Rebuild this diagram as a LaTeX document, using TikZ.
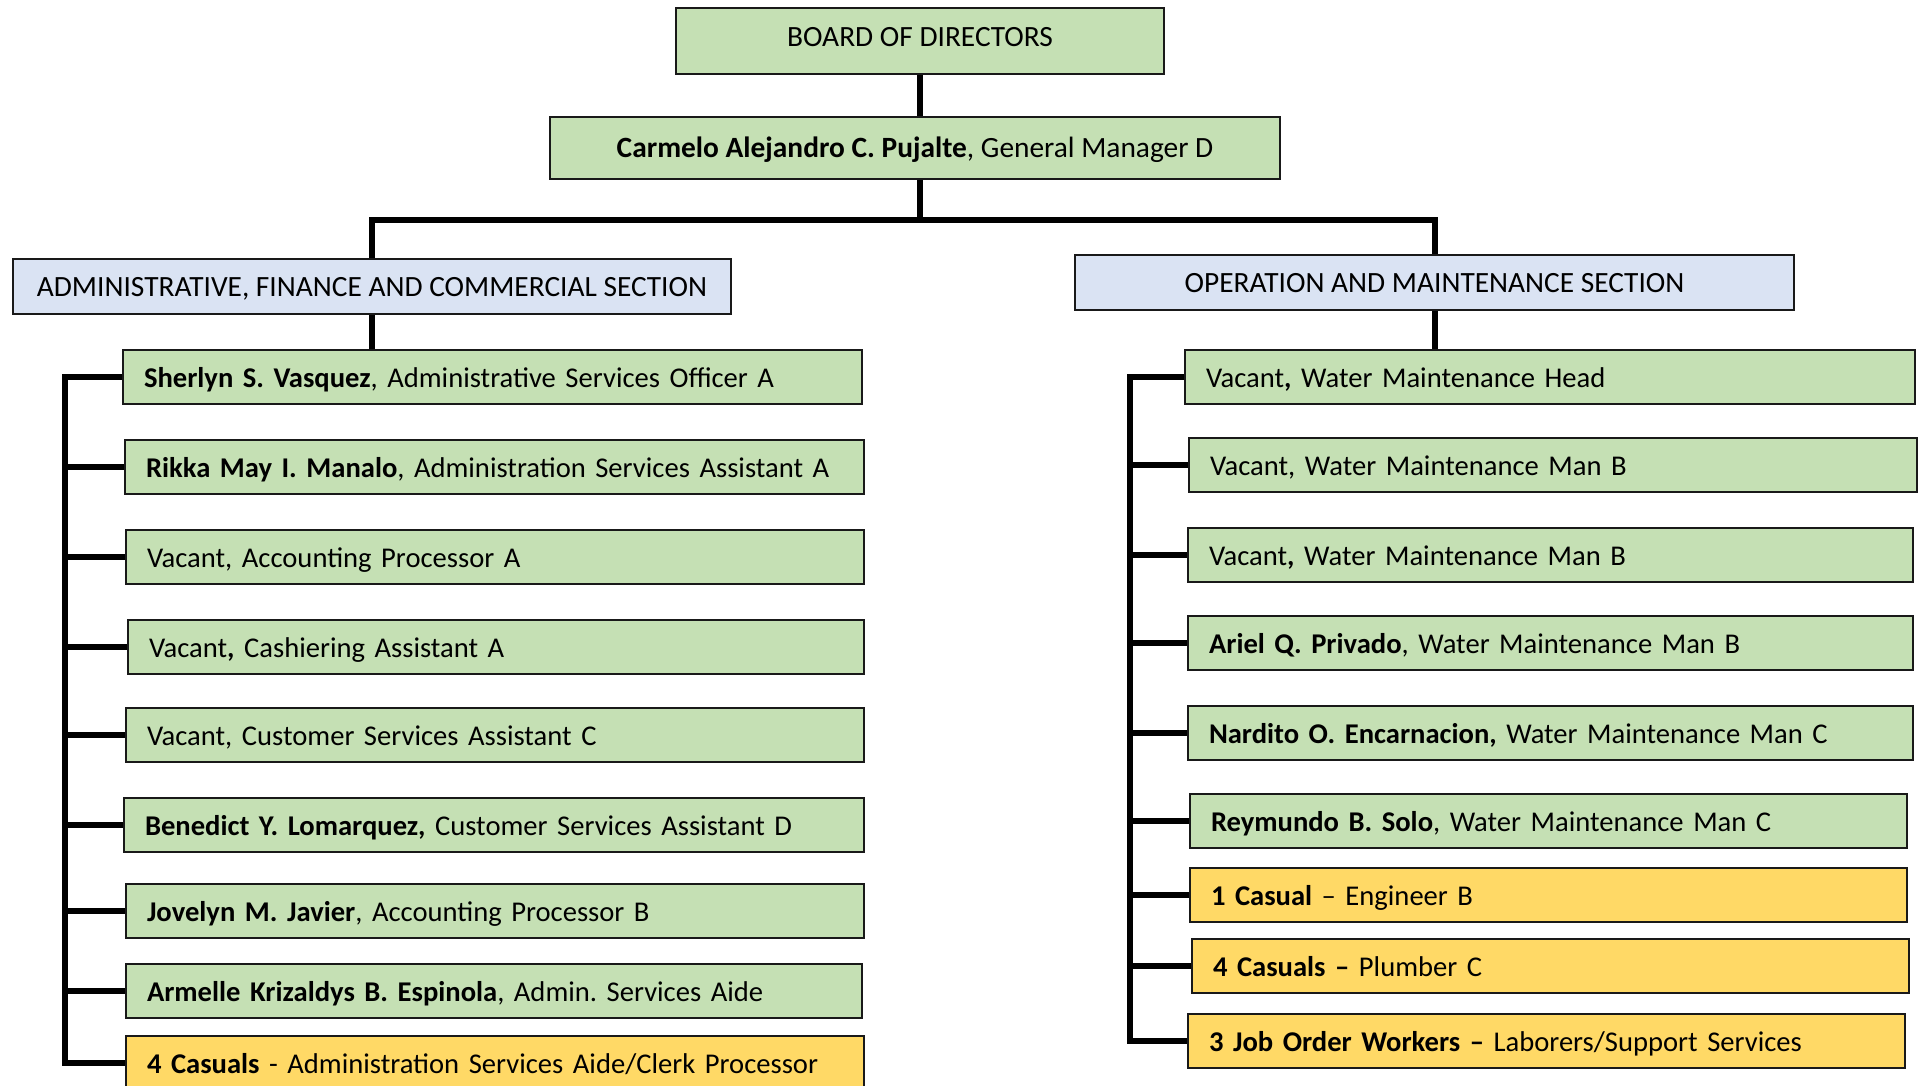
\documentclass[tikz,border=0pt]{standalone}
\usepackage{fontspec}
\setmainfont{Carlito}
\usetikzlibrary{positioning}

\definecolor{boxgreen}{HTML}{C5E0B4}
\definecolor{boxblue}{HTML}{DAE3F3}
\definecolor{boxyellow}{HTML}{FFD966}

\tikzset{
  orgbox/.style={rectangle,draw=black!90,line width=2pt,anchor=north west,
    font=\fontsize{28.6}{34}\selectfont\frenchspacing,text height=21.5pt,text depth=1.5pt},
  topbox/.style={orgbox,fill=boxgreen,inner xsep=0pt,
    font=\fontsize{29.4}{34}\selectfont\frenchspacing},
  sectionbox/.style={topbox,fill=boxblue,minimum height=55pt},
  staffbox/.style={orgbox,fill=boxgreen,inner xsep=21pt,minimum height=54pt,
    align=left,text width=#1},
  casualbox/.style={staffbox=#1,fill=boxyellow},
  orgline/.style={line width=6pt,black}
}

\begin{document}
\begin{tikzpicture}[x=1pt,y=-1pt]
		\useasboundingbox (0,0) rectangle (1921,1086);
		\clip (0,0) rectangle (1921,1086);

		% top level
		\node[topbox,minimum width=488pt,minimum height=66pt,text depth=10.75pt] (board) at (675,7) {BOARD OF DIRECTORS};
		\node[topbox,minimum width=730pt,minimum height=62pt] (gm) at (549,116) {\textbf{Carmelo Alejandro C. Pujalte}, General Manager D};

		% sections
		\node[sectionbox,minimum width=718pt] (admin) at (12,258) {ADMINISTRATIVE, FINANCE AND COMMERCIAL SECTION};
		\node[sectionbox,minimum width=719pt] (om) at (1074,254) {OPERATION AND MAINTENANCE SECTION};

		% administrative staff
		\node[staffbox=697pt] (a1) at (122,349) {\textbf{Sherlyn S. Vasquez}, Administrative Services Officer A};
		\node[staffbox=697pt] (a2) at (124,439) {\textbf{Rikka May I. Manalo}, Administration Services Assistant A};
		\node[staffbox=696pt] (a3) at (125,529) {Vacant, Accounting Processor A};
		\node[staffbox=694pt] (a4) at (127,619) {Vacant\textbf{,} Cashiering Assistant A};
		\node[staffbox=696pt] (a5) at (125,707) {Vacant, Customer Services Assistant C};
		\node[staffbox=698pt] (a6) at (123,797) {\textbf{Benedict Y. Lomarquez,} Customer Services Assistant D};
		\node[staffbox=696pt] (a7) at (125,883) {\textbf{Jovelyn M. Javier}, Accounting Processor B};
		\node[staffbox=694pt] (a8) at (125,963) {\textbf{Armelle Krizaldys B. Espinola}, Admin. Services Aide};
		\node[casualbox=696pt] (a9) at (125,1035) {\textbf{4 Casuals} - Administration Services Aide/Clerk Processor};

		% operation and maintenance staff
		\node[staffbox=688pt] (o1) at (1184,349) {Vacant\textbf{,} Water Maintenance Head};
		\node[staffbox=686pt] (o2) at (1188,437) {Vacant, Water Maintenance Man B};
		\node[staffbox=683pt] (o3) at (1187,527) {Vacant\textbf{,} Water Maintenance Man B};
		\node[staffbox=683pt] (o4) at (1187,615) {\textbf{Ariel Q. Privado}, Water Maintenance Man B};
		\node[staffbox=683pt] (o5) at (1187,705) {\textbf{Nardito O. Encarnacion,} Water Maintenance Man C};
		\node[staffbox=675pt] (o6) at (1189,793) {\textbf{Reymundo B. Solo}, Water Maintenance Man C};
		\node[casualbox=675pt] (o7) at (1189,867) {\textbf{1 Casual} -- Engineer B};
		\node[casualbox=675pt] (o8) at (1191,938) {\textbf{4 Casuals --} Plumber C};
		\node[casualbox=675pt] (o9) at (1187,1013) {\textbf{3 Job Order Workers --} Laborers/Support Services};

		% bus points
		\coordinate (gmfoot) at (board.south |- gm.south);
		\coordinate (split) at ([yshift=-40pt]gmfoot);
		\coordinate (abus) at (65,0);
		\coordinate (obus) at (1130,0);

		% top connectors
		\draw[orgline] (board.south) -- (board.south |- gm.north);
		\draw[orgline] (gmfoot) -- (split);
		\draw[orgline] (admin.north) |- (split) -| (om.north);
		\draw[orgline] (admin.south) -- (admin.south |- a1.north);
		\draw[orgline] (om.south) -- (om.south |- o1.north);

		% administrative bus
		\draw[orgline] (a1.west) -- (a1.west -| abus) -- (a9.west -| abus) -- (a9.west);
		\draw[orgline] (a2.west -| abus) -- (a2.west);
		\draw[orgline] (a3.west -| abus) -- (a3.west);
		\draw[orgline] (a4.west -| abus) -- (a4.west);
		\draw[orgline] (a5.west -| abus) -- (a5.west);
		\draw[orgline] (a6.west -| abus) -- (a6.west);
		\draw[orgline] (a7.west -| abus) -- (a7.west);
		\draw[orgline] (a8.west -| abus) -- (a8.west);

		% operation and maintenance bus
		\draw[orgline] (o1.west) -- (o1.west -| obus) -- (o9.west -| obus) -- (o9.west);
		\draw[orgline] (o2.west -| obus) -- (o2.west);
		\draw[orgline] (o3.west -| obus) -- (o3.west);
		\draw[orgline] (o4.west -| obus) -- (o4.west);
		\draw[orgline] (o5.west -| obus) -- (o5.west);
		\draw[orgline] (o6.west -| obus) -- (o6.west);
		\draw[orgline] (o7.west -| obus) -- (o7.west);
		\draw[orgline] (o8.west -| obus) -- (o8.west);
	\end{tikzpicture}
\end{document}
